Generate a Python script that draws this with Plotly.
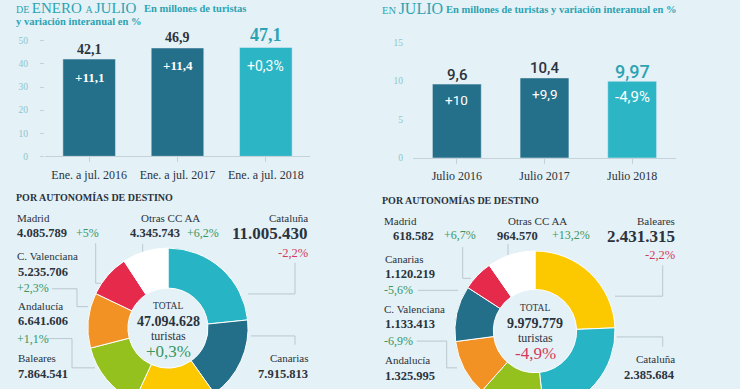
import plotly.graph_objects as go

W, H = 740, 420

# ---------------- data ----------------
periods_total = ["Ene. a jul. 2016", "Ene. a jul. 2017", "Ene. a jul. 2018"]
tourists_total = [42.1, 46.9, 47.1]
change_total = ["+11,1", "+11,4", "+0,3%"]

periods_july = ["Julio 2016", "Julio 2017", "Julio 2018"]
tourists_july = [9.6, 10.4, 9.97]
change_july = ["+10", "+9,9", "-4,9%"]

regions_total = ["Cataluña", "Canarias", "Baleares", "Andalucía", "C. Valenciana", "Madrid", "Otras CC AA"]
visitors_total = [11005430, 7915813, 7864541, 6641606, 5235706, 4085789, 4345743]
pct_total = ["-2,2%", None, None, "+1,1%", "+2,3%", "+5%", "+6,2%"]
total_all = "47.094.628"
total_all_pct = "+0,3%"

regions_july = ["Baleares", "Cataluña", "Andalucía", "C. Valenciana", "Canarias", "Madrid", "Otras CC AA"]
visitors_july = [2431315, 2385684, 1325995, 1133413, 1120219, 618582, 964570]
pct_july = ["-2,2%", None, None, "-6,9%", "-5,6%", "+6,7%", "+13,2%"]
total_july = "9.979.779"
total_july_pct = "-4,9%"

# ---------------- style ----------------
BG = "#e4f1f6"
DARK = "#246f89"
LIGHT = "#2bb5c5"
AXIS = "#c3d3d9"
TICK = "#8cc6cf"
TXT = "#2b333d"
TEAL = "#2ca3b3"
GREEN = "#3a955e"
RED = "#d6395c"
SERIF = "Liberation Serif"
SANS = "Roboto"

region_colors = {
    "Cataluña": "#27b4c4", "Canarias": "#236f89", "Baleares": "#fcc900",
    "Andalucía": "#95c11f", "C. Valenciana": "#f39224", "Madrid": "#e52a4b",
    "Otras CC AA": "#ffffff",
}


def px(x):
    return x / W


def py(y):
    return 1 - y / H


def fmt(v):
    return f"{v:,}".replace(",", ".")


def num(v):
    return f"{v}".replace(".", ",")


fig = go.Figure()

fig.add_trace(go.Bar(x=periods_total, y=tourists_total, marker_color=[DARK, DARK, LIGHT],
                     width=0.595, xaxis="x", yaxis="y", hoverinfo="skip", showlegend=False))
fig.add_trace(go.Bar(x=periods_july, y=tourists_july, marker_color=[DARK, DARK, LIGHT],
                     width=0.557, xaxis="x2", yaxis="y2", hoverinfo="skip", showlegend=False))

fig.add_trace(go.Pie(labels=regions_total, values=visitors_total, sort=False, direction="clockwise",
                     rotation=0, hole=0.5, textinfo="none", hoverinfo="skip", showlegend=False,
                     marker=dict(colors=[region_colors[r] for r in regions_total],
                                 line=dict(color="white", width=1)),
                     domain=dict(x=[px(86), px(250)], y=[py(413), py(249)])))
fig.add_trace(go.Pie(labels=regions_july, values=visitors_july, sort=False, direction="clockwise",
                     rotation=0, hole=0.52, textinfo="none", hoverinfo="skip", showlegend=False,
                     marker=dict(colors=[region_colors[r] for r in regions_july],
                                 line=dict(color="white", width=1)),
                     domain=dict(x=[px(453), px(617)], y=[py(416), py(252)])))

anns = []


def ann(text, x, y, anchor="left", size=11, color=TXT, family=SERIF, **kw):
    anns.append(dict(text=text, x=px(x), y=py(y), xref="paper", yref="paper", xanchor=anchor,
                     yanchor="middle", showarrow=False, font=dict(size=size, color=color, family=family), **kw))


# titles
ann("<span style='font-size:10px'>DE </span>ENERO <span style='font-size:10px'>A </span>JULIO",
    14, 3.5, size=15, color=TEAL)
ann("<b>En millones de turistas</b>", 142, 3.5, size=10.5, color=TEAL)
ann("<b>y variación interanual en %</b>", 14, 16.5, size=10.5, color=TEAL)
ann("<span style='font-size:10.5px'>EN </span>JULIO", 380, 4, size=16, color=TEAL)
ann("<b>En millones de turistas y variación interanual en %</b>", 444, 4.5, size=10.5, color=TEAL)

# bar value labels
for i, (c, v, ch) in enumerate(zip(periods_total, tourists_total, change_total)):
    last = i == len(periods_total) - 1
    anns.append(dict(text=f"<b>{num(v)}</b>", x=c, y=v, xref="x", yref="y", showarrow=False,
                     yanchor="middle", yshift=13 if last else 10,
                     font=dict(size=18 if last else 14, color=TEAL if last else TXT, family=SERIF)))
    anns.append(dict(text=ch if last else f"<b>{ch}</b>", x=c, y=v, xref="x", yref="y", showarrow=False,
                     yanchor="middle", yshift=-18,
                     font=dict(size=14 if last else 13, color="white", family=SANS if last else SERIF)))
for i, (c, v, ch) in enumerate(zip(periods_july, tourists_july, change_july)):
    last = i == len(periods_july) - 1
    anns.append(dict(text=num(v), x=c, y=v, xref="x2", yref="y2", showarrow=False,
                     yanchor="middle", yshift=10 if last else 9.5,
                     font=dict(size=18 if last else 15, color=TEAL if last else TXT, family=SANS, weight=500)))
    anns.append(dict(text=ch, x=c, y=v, xref="x2", yref="y2", showarrow=False,
                     yanchor="middle", yshift=-16,
                     font=dict(size=15 if last else 13.5, color="white", family=SANS)))

ann("<b>POR AUTONOMÍAS DE DESTINO</b>", 14, 197.5, size=10, color=TXT)
ann("<b>POR AUTONOMÍAS DE DESTINO</b>", 380, 200, size=10, color=TXT)

# label layouts: region -> (name x, name y, anchor, value x, pct x, pct y, big)
layout_total = {
    "Madrid": (15, 218, "left", 15, 74, 234, False),
    "Otras CC AA": (170, 218, "center", 128, 185, 234, False),
    "Cataluña": (310, 218, "right", 310, 310, 254, True),
    "C. Valenciana": (15, 257, "left", 16, 15, 290, False),
    "Andalucía": (16, 308, "left", 16, 15, 342, False),
    "Baleares": (16, 362, "left", 16, None, None, False),
    "Canarias": (310, 362, "right", 310, None, None, False),
}
layout_july = {
    "Madrid": (382, 221, "left", 391, 442, 236, False),
    "Otras CC AA": (537, 221, "center", 495, 550, 236, False),
    "Baleares": (677, 221, "right", 677, 677, 256, True),
    "Canarias": (383, 260, "left", 383, 382, 292, False),
    "C. Valenciana": (382, 311, "left", 383, 382, 344, False),
    "Andalucía": (383, 364, "left", 383, None, None, False),
    "Cataluña": (677, 363, "right", 677, None, None, False),
}


def region_labels(regions, values, pcts, lay):
    for r, v, p in zip(regions, values, pcts):
        nx, ny, anc, vx, pxx, pyy, big = lay[r]
        ann(r, nx, ny, anchor=anc, size=11)
        vanc = "right" if anc == "right" else "left"
        ann(f"<b>{fmt(v)}</b>", vx, ny + 16, anchor=vanc, size=17 if big else 12.5)
        if p is not None and pxx is not None:
            col = RED if (anc == "right") else GREEN
            ann(p, pxx, pyy, anchor="right" if anc == "right" else "left",
                size=12.5 if anc == "right" else 12, color=col)


region_labels(regions_total, visitors_total, pct_total, layout_total)
region_labels(regions_july, visitors_july, pct_july, layout_july)

# donut centres
for cx, cy, tot, pct, col in [(168, 308, total_all, total_all_pct, GREEN),
                              (535, 310, total_july, total_july_pct, RED)]:
    ann("TOTAL", cx, cy, anchor="center", size=9.5)
    ann(f"<b>{tot}</b>", cx, cy + 16.5, anchor="center", size=14)
    ann("turistas", cx, cy + 31, anchor="center", size=12)
    ann(pct, cx, cy + 47, anchor="center", size=17, color=col)

# connector lines
paths = [
    [(95.7, 244), (95.7, 285), (101, 285)],
    [(142.7, 245), (142.7, 254)],
    [(295, 264), (295, 296), (248, 296)],
    [(52, 290.7), (77, 290.7), (77, 309), (88, 309)],
    [(48, 341.7), (72, 341.7), (72, 371.7), (95, 371.7)],
    [(251, 339), (295, 339), (295, 348)],
    [(462.7, 248), (462.7, 280), (471, 280)],
    [(508, 245), (508, 256)],
    [(662.7, 266.7), (662.7, 298.3), (615, 298.3)],
    [(418, 292.3), (458, 292.3)],
    [(416.7, 344.3), (446.7, 344.3), (446.7, 371.7), (457, 371.7)],
    [(616.7, 340), (662.7, 340), (662.7, 350)],
]
shapes = []
for pts in paths:
    d = "M " + " L ".join(f"{px(x)},{py(y)}" for x, y in pts)
    shapes.append(dict(type="path", path=d, xref="paper", yref="paper",
                       line=dict(color="#b9c9cf", width=1), layer="below"))

axis_common = dict(showgrid=False, zeroline=False, fixedrange=True)
fig.update_layout(
    width=W, height=H, margin=dict(l=0, r=0, t=0, b=0),
    paper_bgcolor=BG, plot_bgcolor=BG, bargap=0.4,
    annotations=anns, shapes=shapes, showlegend=False,
    xaxis=dict(domain=[px(45), px(310)], anchor="y", range=[-0.5, 2.5], showline=True, linecolor=AXIS,
               ticks="outside", ticklen=5, tickcolor=AXIS, ticklabelstandoff=2,
               tickfont=dict(family=SERIF, size=12, color=TXT), **axis_common),
    yaxis=dict(domain=[py(155), py(36.7)], anchor="x", range=[0, 50], dtick=10, ticks="outside",
               ticklen=4, tickcolor=AXIS, showline=False, ticklabelstandoff=10,
               tickfont=dict(family=SERIF, size=9.5, color=TICK), **axis_common),
    xaxis2=dict(domain=[px(413), px(676)], anchor="y2", range=[-0.5, 2.5], showline=True, linecolor=AXIS,
                ticks="outside", ticklen=5, tickcolor=AXIS, ticklabelstandoff=2,
                tickfont=dict(family=SERIF, size=12, color=TXT), **axis_common),
    yaxis2=dict(domain=[py(156.7), py(38.5)], anchor="x2", range=[0, 15], dtick=5, ticks="",
                showline=False, ticklabelstandoff=9,
                tickfont=dict(family=SERIF, size=9.5, color=TICK), **axis_common),
)

fig.write_html("out.html", config={"displayModeBar": False},
               post_script="document.body.style.margin='0';document.body.style.overflow='hidden';"
                           "document.documentElement.style.overflow='hidden';")
